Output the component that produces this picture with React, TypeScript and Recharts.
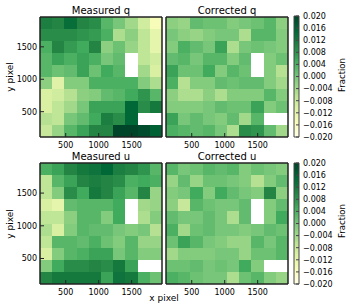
import { ComposedChart, XAxis, YAxis, ReferenceArea, Scatter } from 'recharts';

// cell edges in detector pixels (same for x and y)
const edges = [110, 295, 480, 665, 850, 1035, 1220, 1405, 1590, 1775, 1960];
const pixelTicks = [500, 1000, 1500];
const fracTicks = [0.02, 0.016, 0.012, 0.008, 0.004, 0, -0.004, -0.008, -0.012, -0.016, -0.02];

// rows listed top to bottom, null = masked cell
const measuredQ = [
  [0.011, 0.010, 0.014, 0.010, 0.009, 0.003, 0.000, -0.004, -0.009, -0.015],
  [0.009, 0.009, 0.009, 0.008, 0.007, 0.004, -0.005, -0.002, -0.007, -0.012],
  [0.004, 0.010, 0.007, 0.005, 0.010, -0.002, 0.001, -0.003, -0.007, -0.012],
  [0.003, 0.006, 0.004, 0.006, 0.004, 0.000, 0.002, null, -0.007, -0.009],
  [0.003, 0.001, 0.002, 0.006, 0.001, 0.005, 0.003, null, -0.004, -0.010],
  [-0.002, -0.011, -0.001, -0.001, 0.004, 0.004, 0.004, 0.004, -0.001, -0.005],
  [-0.010, -0.009, -0.006, -0.002, -0.001, 0.002, 0.003, 0.005, 0.008, 0.003],
  [-0.010, -0.007, -0.004, 0.000, 0.006, 0.006, 0.006, 0.015, 0.009, 0.012],
  [-0.006, -0.007, 0.000, 0.002, 0.005, 0.011, 0.009, 0.015, null, null],
  [-0.008, -0.003, 0.003, 0.006, 0.010, 0.010, 0.022, 0.021, 0.019, 0.016],
];

const correctedQ = [
  [-0.002, -0.003, 0.002, 0.001, 0.001, -0.001, 0.000, 0.001, 0.003, -0.002],
  [0.000, -0.002, -0.003, -0.001, 0.000, 0.000, -0.005, 0.003, 0.003, -0.001],
  [-0.001, 0.004, 0.002, 0.000, 0.006, -0.005, 0.000, 0.001, 0.000, -0.001],
  [0.002, 0.003, 0.000, 0.003, 0.003, -0.001, 0.002, null, -0.001, 0.001],
  [0.006, 0.001, 0.001, 0.005, -0.001, 0.003, 0.001, null, -0.001, -0.006],
  [0.004, -0.006, -0.001, -0.001, 0.002, 0.001, 0.002, 0.002, -0.001, -0.004],
  [-0.002, -0.005, -0.005, -0.002, -0.005, -0.001, -0.001, -0.001, 0.003, -0.001],
  [-0.001, -0.001, -0.001, 0.000, 0.002, 0.001, 0.001, 0.006, -0.001, 0.001],
  [0.006, 0.000, 0.002, 0.000, -0.001, 0.002, -0.004, 0.003, null, null],
  [0.004, 0.003, 0.002, 0.003, 0.000, -0.005, 0.009, 0.008, 0.002, -0.004],
];

const measuredU = [
  [0.004, 0.006, 0.010, 0.012, 0.013, 0.015, 0.011, 0.010, 0.008, 0.003],
  [-0.007, 0.003, 0.006, 0.010, 0.011, 0.010, 0.009, 0.004, 0.005, 0.004],
  [-0.007, -0.001, 0.009, 0.005, 0.012, 0.010, 0.006, 0.003, 0.010, -0.003],
  [-0.010, -0.012, 0.002, 0.003, 0.003, 0.003, 0.005, null, -0.004, -0.003],
  [-0.007, -0.007, -0.002, 0.003, 0.003, -0.001, 0.005, null, -0.005, -0.001],
  [-0.005, -0.010, -0.001, 0.003, 0.002, 0.002, 0.000, -0.001, 0.000, -0.006],
  [-0.007, 0.003, 0.003, 0.002, 0.004, 0.001, -0.001, 0.003, -0.003, -0.003],
  [-0.010, -0.001, 0.003, 0.004, 0.006, 0.006, 0.000, 0.003, -0.001, -0.001],
  [-0.001, 0.005, 0.009, 0.009, 0.010, 0.009, 0.012, 0.006, null, null],
  [0.010, 0.012, 0.012, 0.012, 0.012, 0.006, 0.013, 0.012, 0.004, 0.001],
];

const correctedU = [
  [0.003, 0.000, 0.001, 0.003, 0.002, 0.003, -0.001, 0.001, 0.000, -0.001],
  [-0.003, 0.002, -0.003, 0.001, 0.001, 0.000, -0.001, -0.006, -0.001, 0.002],
  [-0.001, 0.000, 0.005, -0.001, 0.005, 0.002, 0.000, -0.001, 0.010, -0.002],
  [-0.002, -0.008, 0.003, 0.001, 0.000, 0.000, 0.002, null, -0.001, 0.002],
  [0.002, 0.000, 0.000, 0.002, 0.000, -0.005, 0.002, null, -0.001, 0.005],
  [0.004, -0.004, 0.001, 0.002, 0.000, 0.000, -0.001, 0.000, 0.002, 0.001],
  [0.001, 0.006, 0.003, 0.000, -0.001, -0.003, -0.003, 0.003, 0.000, 0.003],
  [-0.004, -0.001, -0.001, -0.001, 0.000, 0.000, -0.003, 0.001, 0.001, 0.003],
  [0.001, 0.001, 0.002, 0.000, 0.001, 0.000, 0.005, -0.001, null, null],
  [0.004, 0.003, 0.001, 0.000, 0.000, -0.005, 0.001, 0.003, -0.001, -0.003],
];

// matplotlib YlGn
const ylgn = ['#ffffe5', '#f7fcb9', '#d9f0a3', '#addd8e', '#78c679', '#41ab5d', '#238443', '#006837', '#004529'];
const VMIN = -0.02;
const VMAX = 0.02;

function hexToRgb(h: string) {
  return [parseInt(h.slice(1, 3), 16), parseInt(h.slice(3, 5), 16), parseInt(h.slice(5, 7), 16)];
}

function colorFor(v: number) {
  let t = (v - VMIN) / (VMAX - VMIN);
  t = Math.max(0, Math.min(1, t));
  const pos = t * (ylgn.length - 1);
  const i = Math.min(Math.floor(pos), ylgn.length - 2);
  const f = pos - i;
  const a = hexToRgb(ylgn[i]);
  const b = hexToRgb(ylgn[i + 1]);
  const c = a.map((x, k) => Math.round(x + (b[k] - x) * f));
  return `rgb(${c[0]},${c[1]},${c[2]})`;
}

const font = 'DejaVu Sans';
const frame = '#222';
const tickStyle = { fill: '#000', fontSize: 8, fontFamily: font };
const noShape = () => <g />;

function HeatPanel({
  left,
  top,
  height,
  values,
  yLabels,
}: {
  left: number;
  top: number;
  height: number;
  values: (number | null)[][];
  yLabels: boolean;
}) {
  const cells: any[] = [];
  const centers: { x: number; y: number }[] = [];
  values.forEach((row, r) =>
    row.forEach((v, c) => {
      if (v === null) return;
      centers.push({ x: (edges[c] + edges[c + 1]) / 2, y: (edges[9 - r] + edges[10 - r]) / 2 });
      cells.push(
        <ReferenceArea
          key={`${r}-${c}`}
          x1={edges[c]}
          x2={edges[c + 1]}
          y1={edges[9 - r]}
          y2={edges[10 - r]}
          fill={colorFor(v)}
          fillOpacity={1}
          stroke="none"
          shapeRendering="crispEdges"
          ifOverflow="visible"
        />
      );
    })
  );
  return (
    <div style={{ position: 'absolute', left, top }}>
      <ComposedChart width={166} height={height} margin={{ top: 16, right: 3, left: 0, bottom: 0 }}>
        <Scatter data={centers} dataKey="y" isAnimationActive={false} shape={noShape} />
        {cells}
        <ReferenceArea
          x1={edges[0]}
          x2={edges[10]}
          y1={edges[0]}
          y2={edges[10]}
          fill="none"
          stroke={frame}
          strokeWidth={1}
          ifOverflow="visible"
        />
        <XAxis
          dataKey="x"
          type="number"
          domain={[110, 1960]}
          ticks={pixelTicks}
          allowDataOverflow
          height={13}
          tickSize={-4}
          tickMargin={9}
          stroke={frame}
          tick={tickStyle}
        />
        <XAxis
          xAxisId="top"
          orientation="top"
          dataKey="x"
          type="number"
          domain={[110, 1960]}
          ticks={pixelTicks}
          allowDataOverflow
          height={1}
          tickSize={-4}
          stroke={frame}
          tick={false}
        />
        <YAxis
          dataKey="y"
          type="number"
          domain={[110, 1960]}
          ticks={pixelTicks}
          allowDataOverflow
          width={40}
          tickSize={-4}
          tickMargin={7}
          stroke={frame}
          tick={yLabels ? tickStyle : false}
        />
        <YAxis
          yAxisId="right"
          orientation="right"
          dataKey="y"
          type="number"
          domain={[110, 1960]}
          ticks={pixelTicks}
          allowDataOverflow
          width={1}
          tickSize={-4}
          stroke={frame}
          tick={false}
        />
      </ComposedChart>
    </div>
  );
}

// colorbar levels
const cbarLevels: number[] = [];
for (let i = 0; i <= 64; i++) cbarLevels.push(VMIN + ((VMAX - VMIN) * i) / 64);
const cbarPoints = cbarLevels.map((v) => ({ x: 0.5, y: v }));

const fmtFrac = (v: number) => (v < 0 ? '\u2212' : '') + Math.abs(v).toFixed(3);

function ColorBar({ top }: { top: number }) {
  return (
    <div style={{ position: 'absolute', left: 288, top }}>
      <ComposedChart width={64} height={150} margin={{ top: 16, right: 0, left: 6, bottom: 13 }}>
        <Scatter data={cbarPoints} dataKey="y" isAnimationActive={false} shape={noShape} />
        {cbarLevels.slice(0, -1).map((lv, i) => (
          <ReferenceArea
            key={i}
            x1={0}
            x2={1}
            y1={lv}
            y2={cbarLevels[i + 1]}
            fill={colorFor((lv + cbarLevels[i + 1]) / 2)}
            fillOpacity={1}
            stroke="none"
            shapeRendering="crispEdges"
            ifOverflow="visible"
          />
        ))}
        <ReferenceArea
          x1={0}
          x2={1}
          y1={VMIN}
          y2={VMAX}
          fill="none"
          stroke="#444"
          strokeWidth={1}
          ifOverflow="visible"
        />
        <XAxis dataKey="x" type="number" domain={[0, 1]} hide allowDataOverflow />
        <YAxis
          dataKey="y"
          orientation="right"
          type="number"
          domain={[VMIN, VMAX]}
          ticks={fracTicks}
          allowDataOverflow
          interval={0}
          width={53}
          tickSize={-3}
          tickMargin={7}
          axisLine={false}
          stroke="#444"
          tick={tickStyle}
          tickFormatter={fmtFrac}
        />
      </ComposedChart>
    </div>
  );
}

export default function App() {
  return (
    <div
      style={{
        position: 'absolute',
        left: 0,
        top: 0,
        width: 352,
        height: 303,
        background: '#fff',
        fontFamily: font,
      }}
    >
      <HeatPanel left={0} top={0} height={150} values={measuredQ} yLabels />
      <HeatPanel left={126} top={0} height={150} values={correctedQ} yLabels={false} />
      <HeatPanel left={0} top={146} height={151} values={measuredU} yLabels />
      <HeatPanel left={126} top={146} height={151} values={correctedU} yLabels={false} />
      <ColorBar top={0} />
      <ColorBar top={147} />
      <svg
        width={352}
        height={303}
        style={{ position: 'absolute', left: 0, top: 0, pointerEvents: 'none' }}
        fontFamily={font}
      >
        <text x={101} y={14} textAnchor="middle" fontSize={10}>Measured q</text>
        <text x={227} y={14} textAnchor="middle" fontSize={10}>Corrected q</text>
        <text x={101} y={160} textAnchor="middle" fontSize={10}>Measured u</text>
        <text x={227} y={160} textAnchor="middle" fontSize={10}>Corrected u</text>
        <text x={164} y={301} textAnchor="middle" fontSize={9}>x pixel</text>
        <text transform="translate(13,77) rotate(-90)" textAnchor="middle" fontSize={9}>y pixel</text>
        <text transform="translate(13,224) rotate(-90)" textAnchor="middle" fontSize={9}>y pixel</text>
        <text transform="translate(345,75) rotate(-90)" textAnchor="middle" fontSize={8.5}>Fraction</text>
        <text transform="translate(345,221) rotate(-90)" textAnchor="middle" fontSize={8.5}>Fraction</text>
      </svg>
    </div>
  );
}
